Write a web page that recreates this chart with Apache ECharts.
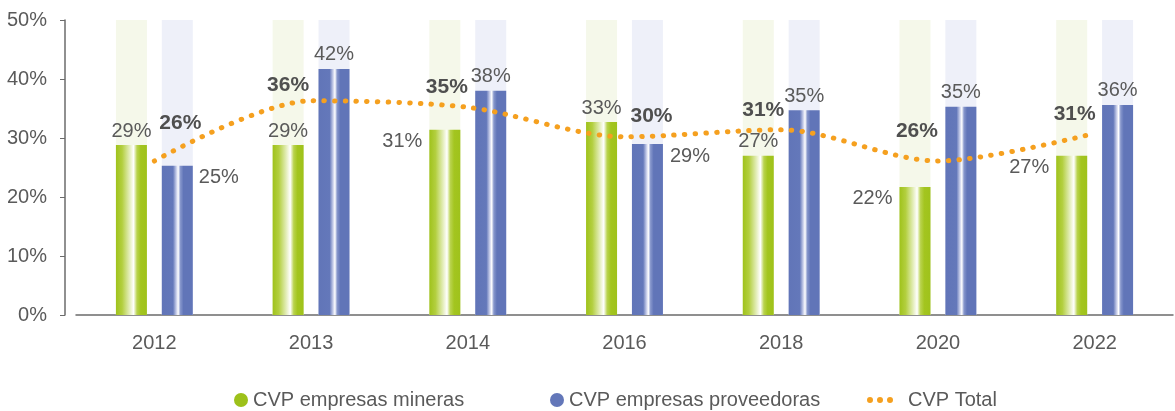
<!DOCTYPE html>
<html>
<head>
<meta charset="utf-8">
<script src="https://cdn.jsdelivr.net/npm/echarts@6/dist/echarts.min.js"></script>
<style>
	html, body { margin: 0; padding: 0; background: #fff; }
	#chart { width: 1175px; height: 411px; }
</style>
</head>
<body>
<div id="chart"></div>
<script>
// datos
var years = ['2012', '2013', '2014', '2016', '2018', '2020', '2022'];
var mineras = [28.8, 28.8, 31.4, 32.7, 27.0, 21.7, 27.0];
var proveedoras = [25.3, 41.7, 38.0, 29.0, 34.7, 35.3, 35.6];
var total = [26.1, 36.3, 35.2, 30.2, 31.4, 26.1, 30.8];
var yTicks = [0, 10, 20, 30, 40, 50];

var FONT = '"Liberation Sans", Arial, sans-serif';
var TXT = '#5a5a5a';

var chart = echarts.init(document.getElementById('chart'));

function pct(v) {
	return Math.round(v) + '%';
}

// etiquetas que van al costado en vez de arriba
var leftLabel = { 2: [-7, 12], 5: [-7, 12], 6: [-7, 12] };
var rightLabel = { 0: [37, 12], 3: [38, 13] };
// desplazamiento de etiquetas de la linea (dx, dy)
var lineOffset = [[26, -22], [-23, 0], [-21, -5], [27, -5], [-18, -4], [-21, -14], [-20, -4]];

var greenGrad = new echarts.graphic.LinearGradient(0, 0, 1, 0, [
	{ offset: 0, color: '#9fc21b' },
	{ offset: 0.2, color: '#b3cf3f' },
	{ offset: 0.45, color: '#e6efbf' },
	{ offset: 0.57, color: '#ffffff' },
	{ offset: 0.68, color: '#b9d34d' },
	{ offset: 0.8, color: '#a3c51f' },
	{ offset: 1, color: '#9fc21b' }
]);
var blueGrad = new echarts.graphic.LinearGradient(0, 0, 1, 0, [
	{ offset: 0, color: '#6175b8' },
	{ offset: 0.36, color: '#6478ba' },
	{ offset: 0.47, color: '#c9cfea' },
	{ offset: 0.53, color: '#ffffff' },
	{ offset: 0.6, color: '#8797cc' },
	{ offset: 0.7, color: '#6175b8' },
	{ offset: 1, color: '#6175b8' }
]);

function barData(values, sideMap, align) {
	return values.map(function(v, i) {
		var item = { value: v };
		if (sideMap[i]) {
			item.label = {
				position: sideMap[i],
				align: align,
				verticalAlign: 'middle'
			};
		}
		return item;
	});
}

var lineData = total.map(function(v, i) {
	return {
		value: v,
		label: { offset: lineOffset[i] }
	};
});

var barLabel = {
	show: true,
	position: 'top',
	distance: 4,
	color: TXT,
	fontFamily: FONT,
	fontSize: 20,
	formatter: function(p) { return pct(p.value); }
};

var legendText = { color: TXT, fontSize: 20, fontFamily: FONT };

var option = {
	animation: false,
	textStyle: { fontFamily: FONT },
	grid: { left: 76, right: 2, top: 20, bottom: 96 },
	xAxis: {
		type: 'category',
		data: years,
		axisTick: { show: false },
		axisLine: { lineStyle: { color: '#6b6b6b', width: 1.5 } },
		axisLabel: { color: TXT, fontSize: 20, fontFamily: FONT, margin: 18 }
	},
	yAxis: {
		type: 'value',
		min: yTicks[0],
		max: yTicks[yTicks.length - 1],
		interval: 10,
		offset: 11,
		splitLine: { show: false },
		axisLine: { show: true, lineStyle: { color: '#6b6b6b', width: 1.5 } },
		axisTick: { show: true, length: 5, lineStyle: { color: '#6b6b6b' } },
		axisLabel: {
			color: TXT, fontSize: 20, fontFamily: FONT, margin: 18,
			formatter: '{value}%'
		}
	},
	legend: [{
		left: 229, top: 385, itemWidth: 14, itemHeight: 14,
		textStyle: legendText,
		data: [{ name: 'CVP empresas mineras', icon: 'circle', itemStyle: { color: '#9dc11a' } }]
	}, {
		left: 545, top: 385, itemWidth: 14, itemHeight: 14,
		textStyle: legendText,
		data: [{ name: 'CVP empresas proveedoras', icon: 'circle', itemStyle: { color: '#6377b9' } }]
	}, {
		left: 862, top: 385, itemWidth: 26, itemHeight: 6,
		textStyle: { color: TXT, fontSize: 20, fontFamily: FONT, padding: [0, 0, 0, 10] },
		data: [{
			name: 'CVP Total',
			icon: 'path://M0,3a3,3 0 1,0 6,0a3,3 0 1,0 -6,0M10,3a3,3 0 1,0 6,0a3,3 0 1,0 -6,0M20,3a3,3 0 1,0 6,0a3,3 0 1,0 -6,0',
			itemStyle: { color: '#f5a01f', borderWidth: 0 }
		}]
	}],
	series: [{
		name: 'CVP empresas mineras',
		type: 'bar',
		barWidth: 31,
		barGap: '48%',
		showBackground: true,
		backgroundStyle: { color: '#f5f8ea' },
		itemStyle: { color: greenGrad },
		label: barLabel,
		data: barData(mineras, leftLabel, 'right')
	}, {
		name: 'CVP empresas proveedoras',
		type: 'bar',
		barWidth: 31,
		showBackground: true,
		backgroundStyle: { color: '#eef0f9' },
		itemStyle: { color: blueGrad },
		label: barLabel,
		data: barData(proveedoras, rightLabel, 'left')
	}, {
		name: 'CVP Total',
		type: 'line',
		smooth: 0.3,
		symbol: 'circle',
		symbolSize: 0.01,
		showSymbol: true,
		z: 5,
		itemStyle: { color: '#f5a01f' },
		lineStyle: { color: '#f5a01f', width: 5, type: [0.5, 10.2], cap: 'round' },
		label: {
			show: true,
			position: 'top',
			distance: 5,
			color: '#4f4f4f',
			fontWeight: 'bold',
			fontSize: 21,
			fontFamily: FONT,
			formatter: function(p) { return pct(p.value); }
		},
		data: lineData
	}]
};

chart.setOption(option);
</script>
</body>
</html>
